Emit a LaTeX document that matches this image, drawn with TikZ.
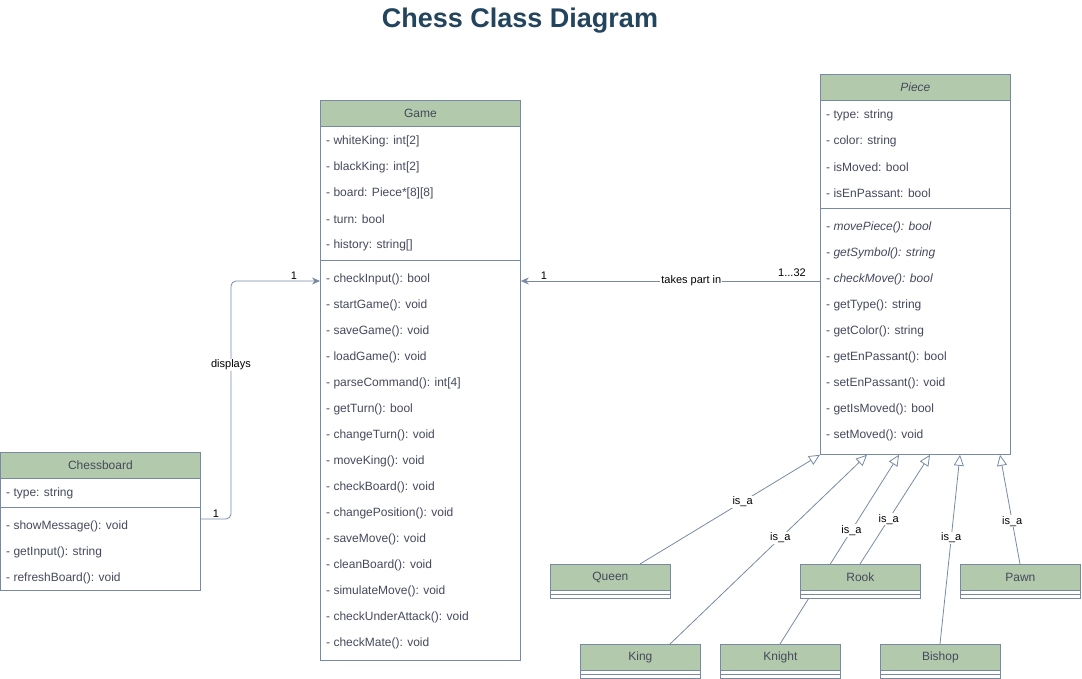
\documentclass[tikz,border=0pt]{standalone}
\usepackage{fontspec}
\setmainfont{Liberation Sans}
\usetikzlibrary{arrows.meta,calc}
\definecolor{hdrfill}{HTML}{B2C9AB}
\definecolor{edgec}{HTML}{788AA3}
\definecolor{txtc}{HTML}{46495D}
\definecolor{ttlc}{HTML}{23445D}
\begin{document}
\begin{tikzpicture}[x=1pt,y=-1pt,
  body/.style={draw=edgec,fill=white,anchor=north west,inner sep=0pt,line width=0.8pt},
  hdr/.style={draw=edgec,fill=hdrfill,anchor=north west,inner sep=0pt,line width=0.8pt,minimum height=26pt,text=txtc,font=\fontsize{12}{14}\selectfont},
  row/.style={anchor=west,inner sep=0pt,text=txtc,font=\fontsize{12}{14}\selectfont},
  sep/.style={draw=edgec,line width=0.8pt},
  lbl/.style={fill=white,inner sep=1pt,text=black,font=\fontsize{11}{13}\selectfont},
  mult/.style={inner sep=1pt,text=black,font=\fontsize{11}{13}\selectfont},
  assoc/.style={draw=edgec,line width=0.8pt,-{Stealth[length=8pt,width=7pt]}},
  inh/.style={draw=edgec,line width=0.8pt,-{Triangle[open,length=11pt,width=10pt,fill=white]}}
]
\useasboundingbox (0,0) rectangle (1082,679);
\node[anchor=center,text=ttlc,font=\fontsize{27}{31}\selectfont\bfseries] (title) at (520,21) {Chess Class Diagram};

% ---------- Game ----------
\node[body,minimum width=200pt,minimum height=560pt] (game) at (320,100) {};
\node[hdr,minimum width=200pt] (gameh) at (320,100) {Game};
\foreach \t [count=\i] in {- whiteKing: int[2],- blackKing: int[2],- board: Piece*[8][8],- turn: bool,- history: string[]}
  \node[row] (ga\i) at (326,{115+26*\i}) {\t};
\draw[sep] (320,260) -- (520,260);
\foreach \t [count=\i] in {- checkInput(): bool,- startGame(): void,- saveGame(): void,- loadGame(): void,- parseCommand(): int[4],- getTurn(): bool,- changeTurn(): void,- moveKing(): void,- checkBoard(): void,- changePosition(): void,- saveMove(): void,- cleanBoard(): void,- simulateMove(): void,- checkUnderAttack(): void,- checkMate(): void}
  \node[row] (gm\i) at (326,{253+26*\i}) {\t};

% ---------- Piece ----------
\node[body,minimum width=190pt,minimum height=380pt] (piece) at (820,74) {};
\node[hdr,minimum width=190pt,font=\fontsize{12}{14}\selectfont\itshape] (pieceh) at (820,74) {Piece};
\foreach \t [count=\i] in {- type: string,- color: string,- isMoved: bool,- isEnPassant: bool}
  \node[row] (pa\i) at (826,{89+26*\i}) {\t};
\draw[sep] (820,208) -- (1010,208);
\foreach \t [count=\i] in {- movePiece(): bool,- getSymbol(): string,- checkMove(): bool}
  \node[row,font=\fontsize{12}{14}\selectfont\itshape] (pm\i) at (826,{201+26*\i}) {\t};
\foreach \t [count=\i from 4] in {- getType(): string,- getColor(): string,- getEnPassant(): bool,- setEnPassant(): void,- getIsMoved(): bool,- setMoved(): void}
  \node[row] (pm\i) at (826,{201+26*\i}) {\t};

% ---------- Chessboard ----------
\node[body,minimum width=200pt,minimum height=138pt] (board) at (0,452) {};
\node[hdr,minimum width=200pt] (boardh) at (0,452) {Chessboard};
\node[row] (ba1) at (6,493) {- type: string};
\draw[sep] (0,507) -- (200,507);
\node[row] (bm1) at (6,526) {- showMessage(): void};
\node[row] (bm2) at (6,552) {- getInput(): string};
\node[row] (bm3) at (6,578) {- refreshBoard(): void};

% ---------- connectors ----------
\coordinate (tp) at (0,281);
\coordinate (db) at (0,519);
\coordinate (bend) at (231,0);
\draw[assoc] (piece.west |- tp) -- node[lbl,pos=0.43] (tpl) {takes part in} (game.east |- tp);
\node[mult] (m1) at (544,276) {1};
\node[mult] (m32) at (792,273) {1...32};
\draw[assoc,rounded corners=5pt] (board.east |- db) -- (bend |- db) -- (bend |- tp) -- (game.west |- tp);
\node[lbl] (disp) at (231,365) {displays};
\node[mult] (m2) at (216,514) {1};
\node[mult] (m3) at (294,276) {1};

% ---------- subclasses: lines first ----------
\coordinate (qs) at (640,564); \coordinate (qe) at (820,454);
\coordinate (ks) at (670,644); \coordinate (ke) at (867,454);
\coordinate (ns) at (780,644); \coordinate (ne) at (899,454);
\coordinate (rs) at (860,564); \coordinate (re) at (930,454);
\coordinate (bs) at (940,644); \coordinate (be) at (960,454);
\coordinate (ps) at (1020,564); \coordinate (pe) at (1000,454);

\foreach \nm/\x/\y in {queen/550/564,rook/800/564,pawn/960/564,king/580/644,knight/720/644,bishop/880/644}{
  \node[body,minimum width=120pt,minimum height=34pt] (\nm) at (\x,\y) {};
}
\draw[inh] (queen.north -| qs) -- node[lbl,pos=0.57] {is\_a} (piece.south -| qe);
\draw[inh] (king.north -| ks) -- node[lbl,pos=0.56] {is\_a} (piece.south -| ke);
\draw[inh] (knight.north -| ns) -- node[lbl,pos=0.6] {is\_a} (piece.south -| ne);
\draw[inh] (bishop.north -| bs) -- node[lbl,pos=0.56] {is\_a} (piece.south -| be);
\draw[inh] (pawn.north -| ps) -- node[lbl,pos=0.39] {is\_a} (piece.south -| pe);

\foreach \nm/\lab/\x/\y in {queen/Queen/550/564,rook/Rook/800/564,pawn/Pawn/960/564,king/King/580/644,knight/Knight/720/644,bishop/Bishop/880/644}{
  \node[body,minimum width=120pt,minimum height=34pt] at (\x,\y) {};
  \node[hdr,minimum width=120pt] (\nm h) at (\x,\y) {\lab};
  \draw[sep] (\x,\y+30) -- (\x+120,\y+30);
}
\draw[inh] (rook.north -| rs) -- node[lbl,pos=0.41] {is\_a} (piece.south -| re);
\end{tikzpicture}
\end{document}
